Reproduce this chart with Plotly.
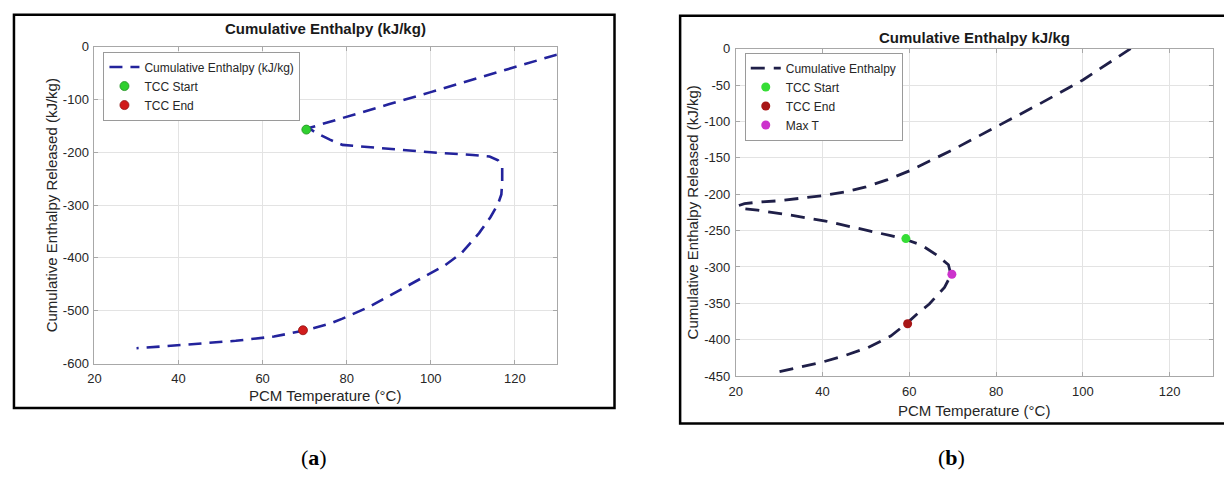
import plotly.graph_objects as go

W, H = 1224, 480

# ---------------- data: panel (a) ----------------
temp_a = [130, 120, 110, 100, 90, 80, 71, 72.5, 76, 79, 85, 95, 100, 110, 114, 116, 117,
          117, 116.8, 116, 114.2, 111.5, 108.8, 107.4, 103.4, 97.9, 92.5, 85.3, 79, 76.2,
          70.8, 62.7, 53.6, 44.6, 35.6, 30]
enthalpy_a = [-15, -39, -62, -86, -109, -133, -154, -162, -176, -186, -190, -196, -200, -205,
              -208, -215, -228, -256, -280, -298, -323, -353, -378, -390, -414, -438, -463,
              -493, -515, -524, -536, -549, -557, -563, -568, -571]
tcc_start_a = (70.4, -157)
tcc_end_a = (69.6, -537)

# ---------------- data: panel (b) ----------------
temp_b = [111, 100, 90, 80, 70, 60, 55, 50, 45, 40, 35, 30, 25, 22, 20.5, 22, 25, 31.8,
          40.7, 48.6, 55.7, 59, 62.8, 66.4, 69, 69.6, 68.1, 64.6, 61.9, 59.3, 55.7, 50.4,
          45, 39.8, 34.5, 30]
enthalpy_b = [0, -43, -76, -108, -139, -168, -180, -190, -197, -202, -206, -209, -211, -213,
              -216, -220, -222, -228, -237, -247, -257, -262, -270, -284, -297, -311, -328,
              -351, -364, -378, -395, -411, -422, -431, -438, -444]
tcc_start_b = (59.2, -261)
tcc_end_b = (59.6, -378)
max_t_b = (69.8, -310)

# ---------------- ticks ----------------
x_ticks = [20, 40, 60, 80, 100, 120]
x_ticktext = ["20", "40", "60", "80", "100", "120"]
y_ticks_a = [0, -100, -200, -300, -400, -500, -600]
y_ticktext_a = ["0", "-100", "-200", "-300", "-400", "-500", "-600"]
y_ticks_b = [0, -50, -100, -150, -200, -250, -300, -350, -400, -450]
y_ticktext_b = ["0", "-50", "-100", "-150", "-200", "-250", "-300", "-350", "-400", "-450"]


def px(x):
    return x / W


def py(y):
    return 1 - y / H


FONT = "Liberation Sans, Arial, sans-serif"

fig = go.Figure()

# panel (a)
fig.add_trace(go.Scatter(x=temp_a, y=enthalpy_a, mode="lines", name="Cumulative Enthalpy (kJ/kg)",
                         line=dict(color="#23239c", width=2.6, dash="13px,8px"),
                         xaxis="x", yaxis="y", legend="legend"))
fig.add_trace(go.Scatter(x=[tcc_start_a[0]], y=[tcc_start_a[1]], mode="markers", name="TCC Start",
                         marker=dict(color="#2fd02f", size=9, line=dict(color="#1f8f1f", width=0.8)),
                         xaxis="x", yaxis="y", legend="legend"))
fig.add_trace(go.Scatter(x=[tcc_end_a[0]], y=[tcc_end_a[1]], mode="markers", name="TCC End",
                         marker=dict(color="#d11c1c", size=9, line=dict(color="#8f1414", width=0.8)),
                         xaxis="x", yaxis="y", legend="legend"))

# panel (b)
fig.add_trace(go.Scatter(x=temp_b, y=enthalpy_b, mode="lines", name="Cumulative Enthalpy",
                         line=dict(color="#1f1f48", width=2.8, dash="14px,9px"),
                         xaxis="x2", yaxis="y2", legend="legend2"))
fig.add_trace(go.Scatter(x=[tcc_start_b[0]], y=[tcc_start_b[1]], mode="markers", name="TCC Start",
                         marker=dict(color="#36dd36", size=9),
                         xaxis="x2", yaxis="y2", legend="legend2"))
fig.add_trace(go.Scatter(x=[tcc_end_b[0]], y=[tcc_end_b[1]], mode="markers", name="TCC End",
                         marker=dict(color="#a81616", size=9),
                         xaxis="x2", yaxis="y2", legend="legend2"))
fig.add_trace(go.Scatter(x=[max_t_b[0]], y=[max_t_b[1]], mode="markers", name="Max T",
                         marker=dict(color="#cc33cc", size=9),
                         xaxis="x2", yaxis="y2", legend="legend2"))

axis_common = dict(showgrid=True, gridcolor="#e3e3e3", gridwidth=1, zeroline=False,
                   showline=True, linecolor="#a8a8a8", linewidth=1, mirror="ticks",
                   ticks="inside", ticklen=4, tickcolor="#a8a8a8",
                   tickfont=dict(family=FONT, size=13, color="#262626"))

fig.update_layout(
    width=W, height=H, margin=dict(l=0, r=0, t=0, b=0),
    paper_bgcolor="white", plot_bgcolor="white",
    font=dict(family=FONT, color="#262626"),
    xaxis=dict(domain=[px(88), px(553)], range=[20, 130], anchor="y",
               tickvals=x_ticks, ticktext=x_ticktext, ticklabelstandoff=3, **axis_common),
    yaxis=dict(domain=[py(368), py(41)], range=[-600, 0], anchor="x",
               tickvals=y_ticks_a, ticktext=y_ticktext_a, ticklabelstandoff=2, **axis_common),
    xaxis2=dict(domain=[px(733), px(1213)], range=[20, 130], anchor="y2",
                tickvals=x_ticks, ticktext=x_ticktext, ticklabelstandoff=3, **axis_common),
    yaxis2=dict(domain=[py(381), py(43)], range=[-450, 0], anchor="x2",
                tickvals=y_ticks_b, ticktext=y_ticktext_b, ticklabelstandoff=2, **axis_common),
    legend=dict(x=px(97), y=py(46), xanchor="left", yanchor="top",
                bgcolor="white", bordercolor="#9a9a9a", borderwidth=1,
                font=dict(family=FONT, size=12, color="#262626"),
                itemwidth=30, tracegroupgap=0),
    legend2=dict(x=px(742), y=py(47), xanchor="left", yanchor="top",
                 bgcolor="white", bordercolor="#9a9a9a", borderwidth=1,
                 font=dict(family=FONT, size=12, color="#262626"),
                 itemwidth=30, tracegroupgap=0),
    showlegend=True,
)

# outer frames
fig.add_shape(type="rect", xref="paper", yref="paper",
              x0=px(7), x1=px(611), y0=py(414), y1=py(8),
              line=dict(color="black", width=2.5), fillcolor="rgba(0,0,0,0)", layer="below")
fig.add_shape(type="rect", xref="paper", yref="paper",
              x0=px(677), x1=px(1240), y0=py(430), y1=py(9),
              line=dict(color="black", width=2.5), fillcolor="rgba(0,0,0,0)", layer="below")

ann = []
# panel (a) texts
ann.append(dict(text="<b>Cumulative Enthalpy (kJ/kg)</b>", x=px(320), y=py(22),
                font=dict(size=15, family=FONT, color="#1a1a1a")))
ann.append(dict(text="PCM Temperature (°C)", x=px(320), y=py(401),
                font=dict(size=15, family=FONT, color="#262626")))
ann.append(dict(text="Cumulative Enthalpy Released (kJ/kg)", x=px(45), y=py(205), textangle=-90,
                font=dict(size=15, family=FONT, color="#262626")))
# panel (b) texts
ann.append(dict(text="<b>Cumulative Enthalpy kJ/kg</b>", x=px(973), y=py(32),
                font=dict(size=15, family=FONT, color="#1a1a1a")))
ann.append(dict(text="PCM Temperature (°C)", x=px(973), y=py(417),
                font=dict(size=15, family=FONT, color="#262626")))
ann.append(dict(text="Cumulative Enthalpy Released (kJ/kg)", x=px(689), y=py(212), textangle=-90,
                font=dict(size=15, family=FONT, color="#262626")))
# sub-figure labels
ann.append(dict(text="(<b>a</b>)", x=px(309), y=py(465),
                font=dict(size=22, family="Liberation Serif, Times New Roman, serif", color="black")))
ann.append(dict(text="(<b>b</b>)", x=px(950), y=py(465),
                font=dict(size=22, family="Liberation Serif, Times New Roman, serif", color="black")))

for a in ann:
    a.update(xref="paper", yref="paper", showarrow=False, xanchor="center", yanchor="middle")
fig.update_layout(annotations=ann)

fig.write_html("out.html")
